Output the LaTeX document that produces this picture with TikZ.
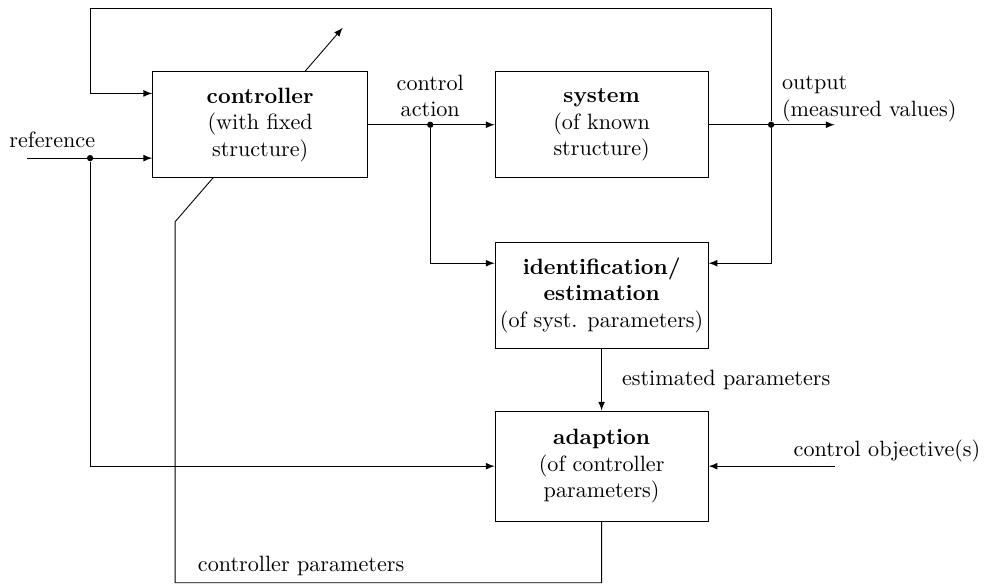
\documentclass[tikz,border=0pt]{standalone}
\usepackage{amsmath}
\usepackage{tikz}
\usetikzlibrary{backgrounds}

\begin{document}
\begin{tikzpicture}[>=latex,
  block/.style={draw,fill=white,align=center,minimum width=3.4cm,inner sep=2pt},
  dot/.style={circle,fill,inner sep=0pt,minimum size=0.1cm}]
\useasboundingbox (0,0) rectangle (15.62,-9.29);
\node [block,minimum width=3.41cm,minimum height=1.68cm] (ctrl) at (4.13,-1.98) {\textbf{controller}\\(with fixed\\structure)};
\node [block,minimum width=3.38cm,minimum height=1.68cm] (sys) at (9.55,-1.98) {\textbf{system}\\(of known\\structure)};
\node [block,minimum width=3.38cm,minimum height=1.67cm] (ident) at (9.55,-4.69) {\textbf{identification/}\\\textbf{estimation}\\(of syst. parameters)};
\node [block,minimum width=3.38cm,minimum height=1.75cm] (adapt) at (9.55,-7.40) {\textbf{adaption}\\(of controller\\parameters)};
\node [dot] (ca) at (6.83,-1.98) {};
\node [dot] (outdot) at (12.24,-1.98) {};
\node [dot] (refdot) at (1.43,-2.51) {};
\coordinate (refin) at (0.43,-2.51);
\coordinate (outend) at (13.25,-1.98);
\coordinate (objin) at (13.25,-7.40);
\coordinate (topleft) at (1.43,-0.13);
\coordinate (botleft) at (2.78,-9.25);
\coordinate (kink) at (2.78,-3.52);
\coordinate (tune) at (5.44,-0.44);
\node at (0.83,-2.22) (reflbl) {reference};
\node [above,align=center] at (ca) (calbl) {control\\action};
\node [above right,align=left,xshift=0.05cm,yshift=-0.08cm] at (outdot) (outlbl) {output\\(measured values)};
\node at (14.08,-7.16) (objlbl) {control objective(s)};
\node at (4.78,-8.98) (cplbl) {controller parameters};
\draw [->] (ctrl.east) -- (sys.west);
\draw [->] (sys.east) -- (outend);
\draw [->] (refin) -- ([yshift=-0.53cm]ctrl.west);
\draw [->] (outdot) |- (topleft) |- ([yshift=-0.35cm]ctrl.north west);
\draw [->] (outdot) |- ([yshift=-0.33cm]ident.north east);
\draw [->] (ca) |- ([yshift=-0.33cm]ident.north west);
\draw [->] (refdot) |- (adapt.west);
\draw [->] (ident) -- node [right,xshift=0.2cm] (eplbl) {estimated parameters} (adapt);
\draw [->] (objin) -- (adapt.east);
\begin{pgfonlayer}{background}
\draw [->] (adapt.south) |- (botleft) -- (kink) -- (tune);
\end{pgfonlayer}
\end{tikzpicture}
\end{document}
